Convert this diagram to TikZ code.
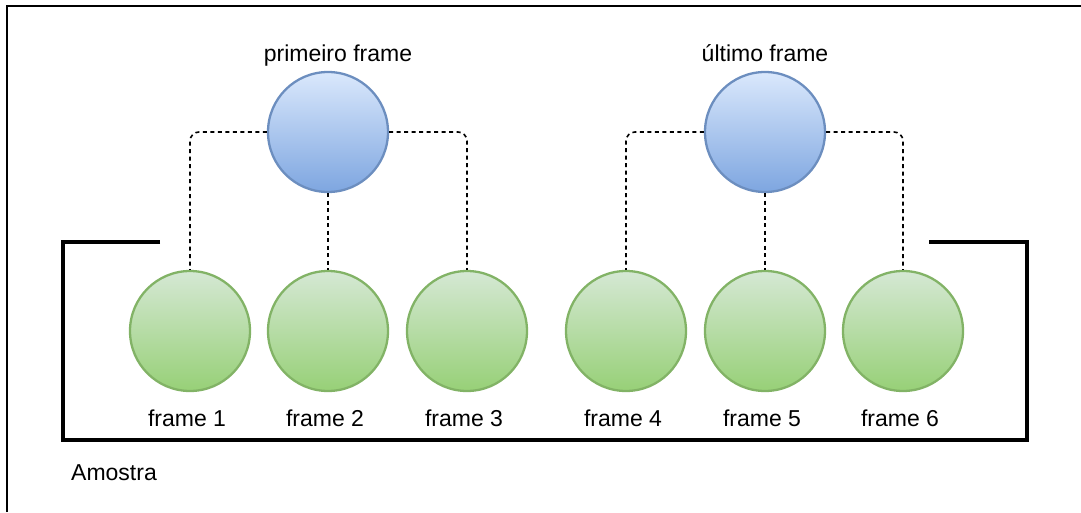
\documentclass[tikz,border=0pt]{standalone}
\usepackage{fontspec}
\setmainfont{Liberation Sans}
\usetikzlibrary{positioning}
\definecolor{azulclaro}{HTML}{DAE8FC}
\definecolor{azulescuro}{HTML}{7EA6E0}
\definecolor{azulborda}{HTML}{6C8EBF}
\definecolor{verdeclaro}{HTML}{D5E8D4}
\definecolor{verdeescuro}{HTML}{97D077}
\definecolor{verdeborda}{HTML}{82B366}

\begin{document}
\begin{tikzpicture}[x=1pt,y=-1pt,
  font=\fontsize{23}{28}\selectfont,
  bola/.style={circle,minimum size=120pt,inner sep=0pt,line width=2.3pt},
  chave/.style={bola,draw=azulborda,top color=azulclaro,bottom color=azulescuro},
  quadro/.style={bola,draw=verdeborda,top color=verdeclaro,bottom color=verdeescuro},
  ligacao/.style={line width=1.6pt,dash pattern=on 4pt off 3.5pt,rounded corners=9pt},
  rotulo/.style={anchor=base,inner sep=0pt}]
  \useasboundingbox (0,0) rectangle (1081,512);
  % moldura externa
  \draw[line width=2pt] (7,512) -- (7,6) -- (1081,6);
  % frames da amostra
  \foreach \i/\x in {1/190,2/328,3/467,4/626,5/765,6/903} {
    \node[quadro] (f\i) at (\x,331) {};
    \node[rotulo] (t\i) at (\x-3,426) {frame \i};
  }
  % frames chave
  \node[chave] (first) at (328,132) {};
  \node[chave] (last) at (765,132) {};
  \node[rotulo] (tfirst) at (338,61) {primeiro frame};
  \node[rotulo] (tlast) at (765,61) {último frame};
  \draw[ligacao] (first.west) -| (f1.north);
  \draw[ligacao] (first.south) -- (f2.north);
  \draw[ligacao] (first.east) -| (f3.north);
  \draw[ligacao] (last.west) -| (f4.north);
  \draw[ligacao] (last.south) -- (f5.north);
  \draw[ligacao] (last.east) -| (f6.north);
  % colchete da amostra
  \draw[line width=3.5pt] (160,242) -- (63,242) -- (63,440) -- (1027,440) -- (1027,242) -- (929,242);
  \node[rotulo,anchor=base west] (amostra) at (71,480) {Amostra};
\end{tikzpicture}
\end{document}
